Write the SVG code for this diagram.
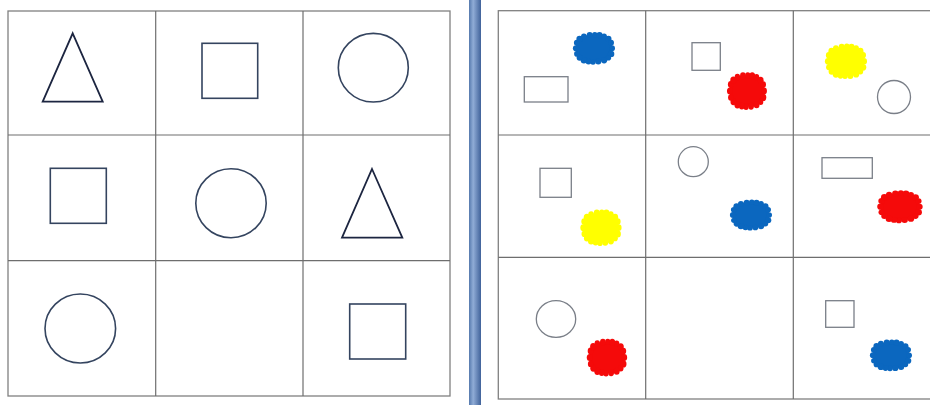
<svg xmlns="http://www.w3.org/2000/svg" xmlns:xlink="http://www.w3.org/1999/xlink" width="930" height="405" viewBox="0 0 930 405">
<style>
.grid{fill:none;stroke:#808080;stroke-width:1.3}
.gline{stroke:#6e6e6e;stroke-width:1.2}
.big{fill:none;stroke:#34445f;stroke-width:1.6}
.tri{fill:none;stroke:#1c2540;stroke-width:1.8;stroke-linejoin:miter}
.small{fill:none;stroke:#7a7f88;stroke-width:1.3}
</style>
<defs>
<linearGradient id="bar" x1="0" y1="0" x2="1" y2="0">
<stop offset="0" stop-color="#5579ad"/>
<stop offset="0.35" stop-color="#90acd6"/>
<stop offset="1" stop-color="#40629a"/>
</linearGradient>
<g id="cloud">
<rect x="-18" y="-13.5" width="36" height="27" rx="15" ry="11"/>
<circle cx="18" cy="0" r="3"/>
<circle cx="17.1" cy="5.6" r="3.2"/>
<circle cx="14.4" cy="9.4" r="2.8"/>
<circle cx="10.1" cy="12" r="3.1"/>
<circle cx="4.3" cy="13.3" r="3"/>
<circle cx="-1" cy="13.7" r="2.8"/>
<circle cx="-5.5" cy="13.2" r="2.9"/>
<circle cx="-10.1" cy="12" r="3.2"/>
<circle cx="-14.4" cy="9.4" r="3"/>
<circle cx="-17.1" cy="5.6" r="2.8"/>
<circle cx="-18" cy="0" r="3.1"/>
<circle cx="-17.1" cy="-5.6" r="3"/>
<circle cx="-14.4" cy="-9.4" r="3.2"/>
<circle cx="-10.1" cy="-12" r="2.9"/>
<circle cx="-4.3" cy="-13.3" r="3"/>
<circle cx="0.8" cy="-13.6" r="2.8"/>
<circle cx="5.5" cy="-13.2" r="3.1"/>
<circle cx="10.1" cy="-12" r="2.8"/>
<circle cx="14.4" cy="-9.4" r="3.1"/>
<circle cx="17.1" cy="-5.6" r="2.9"/>
</g>
</defs>
<rect width="930" height="405" fill="#ffffff"/>
<rect x="469" y="0" width="12" height="405" fill="url(#bar)"/>

<g id="left-grid">
<rect class="grid" x="8" y="11" width="442" height="385"/>
<line class="gline" x1="155.7" y1="11" x2="155.7" y2="396"/>
<line class="gline" x1="303" y1="11" x2="303" y2="396"/>
<line class="gline" x1="8" y1="135" x2="450" y2="135"/>
<line class="gline" x1="8" y1="260.7" x2="450" y2="260.7"/>
</g>
<g id="L11"><polygon class="tri" points="72.7,33.3 102.7,101.7 42.7,101.7"/></g>
<g id="L12"><rect class="big" x="202" y="43.3" width="55.7" height="55"/></g>
<g id="L13"><ellipse class="big" cx="373.3" cy="67.7" rx="35" ry="34.3"/></g>
<g id="L21"><rect class="big" x="50.3" y="168.3" width="56" height="55"/></g>
<g id="L22"><ellipse class="big" cx="231" cy="203.2" rx="35.2" ry="34.5"/></g>
<g id="L23"><polygon class="tri" points="372,169 402.3,237.7 342,237.7"/></g>
<g id="L31"><ellipse class="big" cx="80.3" cy="328.5" rx="35.3" ry="34.5"/></g>
<g id="L32"></g>
<g id="L33"><rect class="big" x="349.7" y="304" width="56" height="55"/></g>

<g id="right-grid">
<rect class="grid" x="498.3" y="10.7" width="450" height="388.3"/>
<line class="gline" x1="645.7" y1="10.7" x2="645.7" y2="399"/>
<line class="gline" x1="793.3" y1="10.7" x2="793.3" y2="399"/>
<line class="gline" x1="498.3" y1="135" x2="930" y2="135"/>
<line class="gline" x1="498.3" y1="257.3" x2="930" y2="257.3"/>
</g>
<g id="R11">
<use xlink:href="#cloud" fill="#0b67bf" transform="translate(594,48.3)"/>
<rect class="small" x="524.3" y="76.7" width="43.7" height="25.3"/>
</g>
<g id="R12">
<rect class="small" x="692" y="42.7" width="28.3" height="27.6"/>
<use xlink:href="#cloud" fill="#f50a0a" transform="translate(747,91) scale(0.95,1.15)"/>
</g>
<g id="R13">
<use xlink:href="#cloud" fill="#ffff00" transform="translate(846,61.3) scale(1,1.08)"/>
<circle class="small" cx="894" cy="97" r="16.5"/>
</g>
<g id="R21">
<rect class="small" x="540" y="168.3" width="31.3" height="29"/>
<use xlink:href="#cloud" fill="#ffff00" transform="translate(601,227.7) scale(0.98,1.11)"/>
</g>
<g id="R22">
<circle class="small" cx="693.3" cy="161.7" r="15"/>
<use xlink:href="#cloud" fill="#0b67bf" transform="translate(751,215) scale(1,0.94)"/>
</g>
<g id="R23">
<rect class="small" x="822" y="157.7" width="50.3" height="20.6"/>
<use xlink:href="#cloud" fill="#f50a0a" transform="translate(900,206.7) scale(1.08,1)"/>
</g>
<g id="R31">
<ellipse class="small" cx="556" cy="319" rx="19.7" ry="18.3"/>
<use xlink:href="#cloud" fill="#f50a0a" transform="translate(607,357.5) scale(0.96,1.15)"/>
</g>
<g id="R32"></g>
<g id="R33">
<rect class="small" x="825.7" y="300.7" width="28.3" height="26.6"/>
<use xlink:href="#cloud" fill="#0b67bf" transform="translate(891,355.3) scale(1,0.97)"/>
</g>
<g id="connectors"></g>
</svg>
